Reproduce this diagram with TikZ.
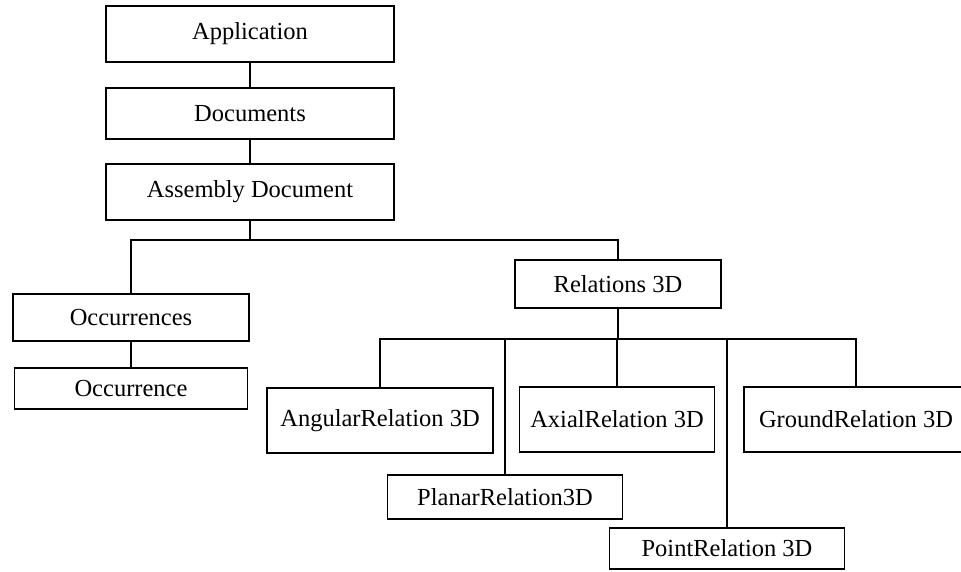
\documentclass[tikz,border=0pt]{standalone}
\usepackage{fontspec}
\setmainfont{Liberation Serif}
\begin{document}
\begin{tikzpicture}[x=1pt,y=-1pt,
  box/.style={draw, line width=1.8pt, rectangle, inner sep=0pt,
    font=\fontsize{24.5}{29}\selectfont},
  link/.style={line width=1.6pt}]
\useasboundingbox (0,0) rectangle (961,571);
\fill[white] (0,0) rectangle (961,571);

% object tree
\node[box, minimum width=288pt, minimum height=56pt] (app)    at (250,34)    {Application};
\node[box, minimum width=288pt, minimum height=51pt] (docs)   at (250,113.5) {Documents};
\node[box, minimum width=288pt, minimum height=56pt] (asm)    at (250,192)   {Assembly Document};
\node[box, minimum width=236pt, minimum height=47pt] (occs)   at (131,317.5) {Occurrences};
\node[box, minimum width=233pt, minimum height=41pt] (occ)    at (131,388.5) {Occurrence};
\node[box, minimum width=206pt, minimum height=48pt] (rel)    at (618,284)   {Relations 3D};
\node[box, minimum width=226pt, minimum height=65pt] (ang)    at (380,420.5) {AngularRelation 3D};
\node[box, minimum width=195pt, minimum height=65pt] (axial)  at (617,419.5) {AxialRelation 3D};
\node[box, minimum width=224pt, minimum height=65pt] (ground) at (856,419.5) {GroundRelation 3D};
\node[box, minimum width=235pt, minimum height=44pt] (planar) at (505,497)   {PlanarRelation3D};
\node[box, minimum width=235pt, minimum height=41pt] (point)  at (727,548.5) {PointRelation 3D};

% branch points
\coordinate (b1) at (250,240);
\coordinate (b2) at (618,339);

\draw[link] (app) -- (docs);
\draw[link] (docs) -- (asm);
\draw[link] (asm) -- (b1);
\draw[link] (b1) -| (occs);
\draw[link] (b1) -| (rel);
\draw[link] (occs) -- (occ);
\draw[link] (rel) -- (b2);
\draw[link] (b2) -| (ang);
\draw[link] (b2) -| (planar);
\draw[link] (b2) -| (axial);
\draw[link] (b2) -| (point);
\draw[link] (b2) -| (ground);
\end{tikzpicture}
\end{document}
